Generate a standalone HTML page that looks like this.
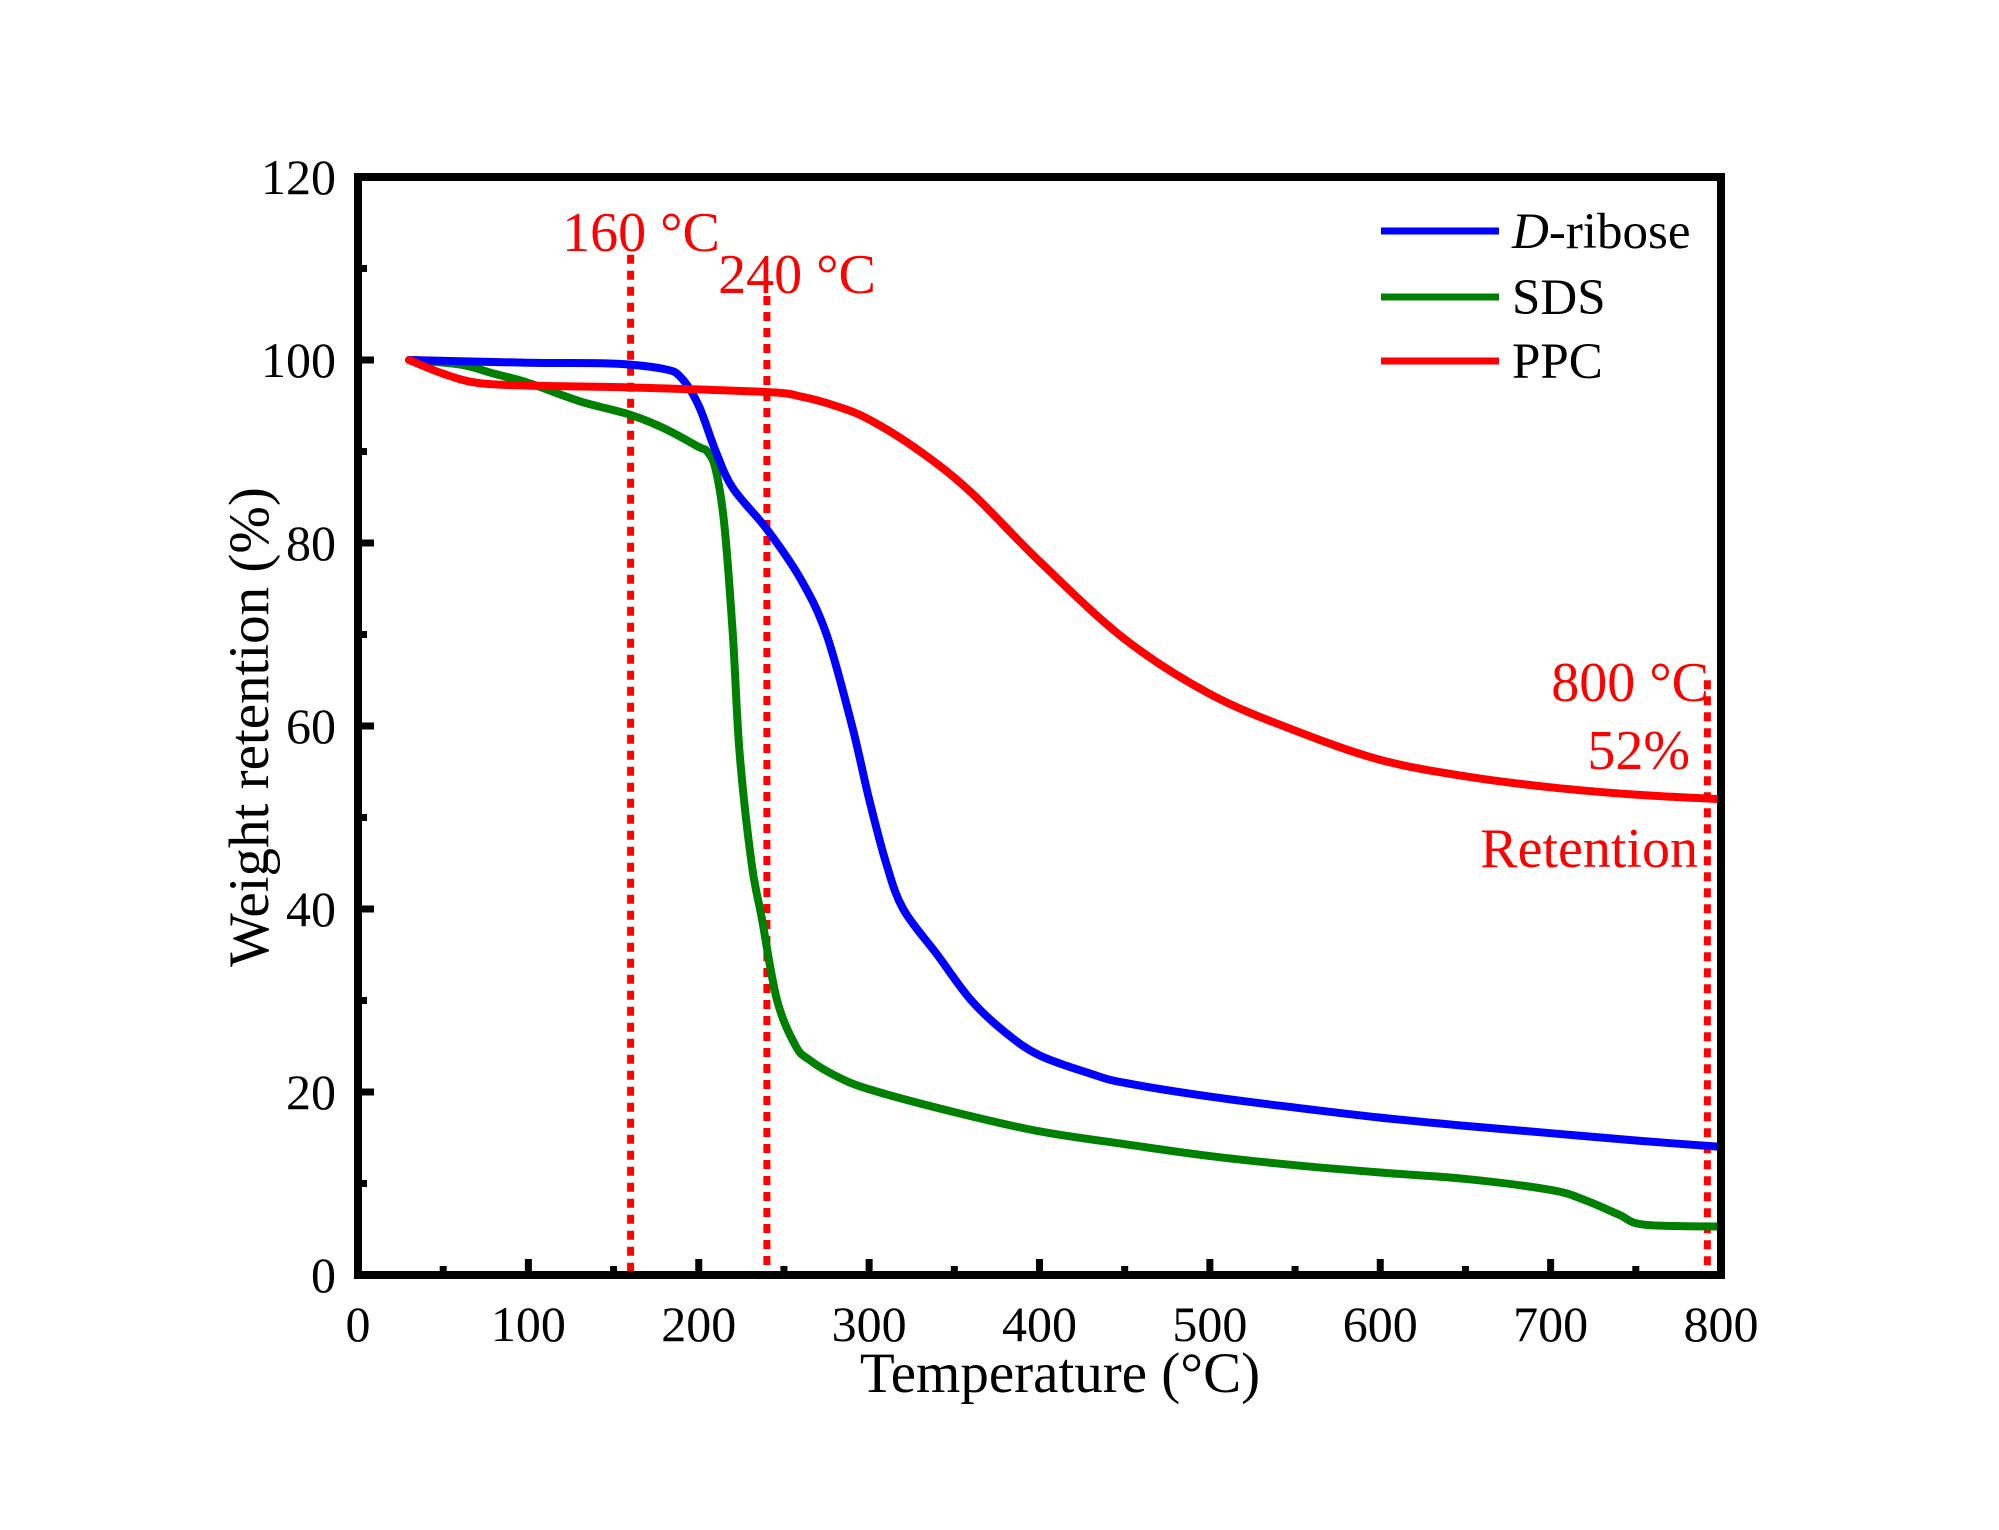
<!DOCTYPE html>
<html><head><meta charset="utf-8"><style>body{margin:0;background:#fff}svg{display:block}text{font-family:"Liberation Serif",serif}</style></head>
<body>
<svg id="chart" width="1999" height="1530" viewBox="0 0 1999 1530" xmlns="http://www.w3.org/2000/svg">
<g id="plot"></g>
</svg>
<script>
const riboseT=[30,100,150,180,190,200,210,220,240,260,275,290,300,310,320,340,360,380,400,430,450,500,550,600,650,700,750,800];
const riboseW=[100,99.7,99.6,99,98,95,90,86,81.5,76,70,60,52,45,40,35,30,26.5,24,22,21,19.5,18.3,17.2,16.3,15.5,14.7,14];
const sdsT=[30,60,80,100,130,160,180,200,205,210,215,220,224,231,237,246,257,265,280,300,350,400,450,500,550,600,650,700,720,740,755,800];
const sdsW=[100,99.5,98.5,97.5,95.5,94,92.5,90.5,90,88,82,70,57,45,39,30,25,23.5,21.8,20.3,17.8,15.7,14.3,13,12,11.2,10.5,9.3,8.2,6.6,5.5,5.3];
const ppcT=[30,50,70,100,160,240,260,280,300,330,360,400,450,500,550,600,650,700,750,800];
const ppcW=[100,98.5,97.5,97.2,97,96.5,96,95,93.5,90,85.5,78,69.5,63.5,59.5,56.3,54.5,53.3,52.5,52];
const xTicks=[0,100,200,300,400,500,600,700,800];
const yTicks=[0,20,40,60,80,100,120];
const markerT=[160,240,792];
const markerTop=[111.5,107,65];
const NS="http://www.w3.org/2000/svg";
const X0=358,X1=1721,Y0=1275,Y1=177;
const sx=v=>X0+v/800*(X1-X0), sy=v=>Y0-v/120*(Y0-Y1);
const g=document.getElementById('plot');
function el(t,a,p){const e=document.createElementNS(NS,t);for(const k in a)e.setAttribute(k,a[k]);(p||g).appendChild(e);return e;}
function txt(s,a){const e=el('text',a);e.textContent=s;return e;}
function smooth(xs,ys){const p=xs.map((x,i)=>[sx(x),sy(ys[i])]);let d='M'+p[0][0]+','+p[0][1];
 for(let i=0;i<p.length-1;i++){const p0=p[Math.max(0,i-1)],p1=p[i],p2=p[i+1],p3=p[Math.min(p.length-1,i+2)];
 const c1=[p1[0]+(p2[0]-p0[0])/6,p1[1]+(p2[1]-p0[1])/6],c2=[p2[0]-(p3[0]-p1[0])/6,p2[1]-(p3[1]-p1[1])/6];
 d+=` C${c1[0]},${c1[1]} ${c2[0]},${c2[1]} ${p2[0]},${p2[1]}`;}return d;}
// markers
markerT.forEach((t,i)=>{const l=el('line',{x1:sx(t),x2:sx(t),y1:sy(markerTop[i]),y2:Y0,stroke:'#ff0000','stroke-width':7,'stroke-dasharray':'9 7'});

});
// series
[[sdsT,sdsW,'#008000','sds-curve'],[riboseT,riboseW,'#0000ff','d-ribose-curve'],[ppcT,ppcW,'#ff0000','ppc-curve']].forEach(s=>{
 const p=el('path',{d:smooth(s[0],s[1]),fill:'none',stroke:s[2],'stroke-width':8,'stroke-linejoin':'round','stroke-linecap':'round'});
 
 });
// ticks
xTicks.forEach((t,i)=>{el('line',{x1:sx(t),x2:sx(t),y1:Y0,y2:Y0-16,stroke:'#000','stroke-width':7});
 if(i<xTicks.length-1)el('line',{x1:sx(t+50),x2:sx(t+50),y1:Y0,y2:Y0-9,stroke:'#000','stroke-width':7});
 const l=txt(t,{x:sx(t),y:1341,'font-size':50,'text-anchor':'middle'});
 
 });
yTicks.forEach((t,i)=>{el('line',{x1:X0,x2:X0+16,y1:sy(t),y2:sy(t),stroke:'#000','stroke-width':7});
 if(i<yTicks.length-1)el('line',{x1:X0,x2:X0+9,y1:sy(t+10),y2:sy(t+10),stroke:'#000','stroke-width':7});
 const l=txt(t,{x:336,y:sy(t)+17,'font-size':50,'text-anchor':'end'});
 
 });
const fr=el('rect',{x:X0,y:Y1,width:X1-X0,height:Y0-Y1,fill:'none',stroke:'#000','stroke-width':8});


// annotations
[['160 °C',641,251,'middle'],['240 °C',797,293,'middle'],['800 °C',1709,701,'end'],['52%',1690,769,'end'],['Retention',1698,867,'end']].forEach(a=>{
 const t=txt(a[0],{x:a[1],y:a[2],'font-size':56,fill:'#ff0000','text-anchor':a[3]});
 
 });
// legend
[['D-ribose','#0000ff',231],['SDS','#008000',297],['PPC','#ff0000',361]].forEach(l=>{
 const ln=el('line',{x1:1381,x2:1499,y1:l[2],y2:l[2],stroke:l[1],'stroke-width':7});
 
 
 const t=el('text',{x:1512,y:l[2]+17,'font-size':51});
 
 
 if(l[0]==='D-ribose'){const i=el('tspan',{'font-style':'italic'},t);i.textContent='D';const r=el('tspan',{},t);r.textContent='-ribose';}
 else t.textContent=l[0];});
const xt=txt('Temperature (°C)',{x:1060,y:1392,'font-size':57,'text-anchor':'middle'});


const yt=txt('Weight retention (%)',{x:0,y:0,'font-size':57,'text-anchor':'middle',transform:'translate(268,727) rotate(-90)'});


</script>
</body></html>
